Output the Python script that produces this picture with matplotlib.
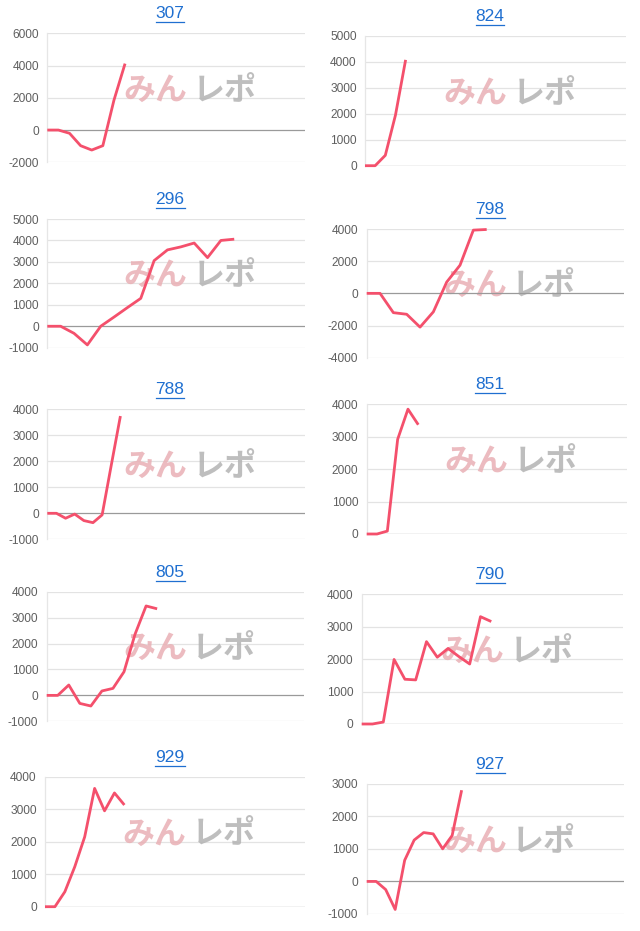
import matplotlib.pyplot as plt
from matplotlib.lines import Line2D

# chart titles (machine numbers), in reading order
titles = ['307', '824', '296', '798', '788', '851', '805', '790', '929', '927']

# cumulative difference per game
diff_307 = [0, 0, -200, -970, -1240, -970, 1850, 4120]
diff_824 = [0, 0, 400, 1950, 4080]
diff_296 = [0, 0, -330, -870, 0, 430, 870, 1300, 3060, 3560, 3700, 3880, 3200, 4000, 4060]
diff_798 = [0, 0, -1200, -1300, -2100, -1150, 700, 1750, 3930, 3970]
diff_788 = [0, 0, -190, -30, -280, -360, -60, 1850, 3740]
diff_851 = [0, 0, 90, 2920, 3850, 3370]
diff_805 = [0, 0, 400, -310, -410, 170, 270, 910, 2360, 3450, 3340]
diff_790 = [0, 0, 60, 1990, 1380, 1360, 2540, 2060, 2330, 2080, 1850, 3310, 3160]
diff_929 = [0, 0, 460, 1230, 2150, 3640, 2950, 3500, 3130]
diff_927 = [0, 0, -250, -860, 650, 1270, 1500, 1460, 1000, 1410, 2800]

series = [diff_307, diff_824, diff_296, diff_798, diff_788,
          diff_851, diff_805, diff_790, diff_929, diff_927]

# y axis ticks per chart
yticks = [
    [-2000, 0, 2000, 4000, 6000],
    [0, 1000, 2000, 3000, 4000, 5000],
    [-1000, 0, 1000, 2000, 3000, 4000, 5000],
    [-4000, -2000, 0, 2000, 4000],
    [-1000, 0, 1000, 2000, 3000, 4000],
    [0, 1000, 2000, 3000, 4000],
    [-1000, 0, 1000, 2000, 3000, 4000],
    [0, 1000, 2000, 3000, 4000],
    [0, 1000, 2000, 3000, 4000],
    [-1000, 0, 1000, 2000, 3000],
]

# number of x slots shown in each chart
slots = [23.2, 25.7, 19.3, 19.3, 28.2, 25.2, 23.3, 24.2, 26.2, 27.1]

# plot boxes in pixels: left, top, right, bottom
boxes = [
    (47.3, 33.3, 305, 162.3),
    (365, 36, 626, 165.7),
    (47.3, 219, 305, 347.7),
    (366.7, 229, 624, 357.7),
    (47.3, 409.3, 305, 539.3),
    (366.7, 404.3, 626.7, 534),
    (46.7, 591.7, 304, 721.3),
    (361.7, 594.3, 623, 724),
    (45, 776.7, 305, 906.7),
    (366.7, 783.7, 624, 914),
]

W, H = 640, 931
LINE = '#f4506c'
BLUE = '#1f6fd0'

fig = plt.figure(figsize=(W / 100, H / 100), dpi=100)
fig.patch.set_facecolor('white')

title_texts = []
for i, (vals, box) in enumerate(zip(series, boxes)):
    x0, y0, x1, y1 = box
    ax = fig.add_axes([x0 / W, 1 - y1 / H, (x1 - x0) / W, (y1 - y0) / H])
    ticks = yticks[i]
    ax.set_ylim(ticks[0], ticks[-1])
    ax.set_xlim(0, slots[i])
    ax.set_yticks(ticks)
    ax.set_yticklabels([str(t) for t in ticks], fontfamily='Liberation Sans',
                       fontsize=8.6, color='#5f5f5f')
    ax.set_xticks([])
    ax.tick_params(axis='y', length=0, pad=6)
    for t in ticks:
        if t == 0:
            ax.axhline(t, color='#9a9a9a', lw=0.9, zorder=2)
        else:
            ax.axhline(t, color='#e3e3e3', lw=0.9, zorder=0)
    for s in ['top', 'right', 'bottom']:
        ax.spines[s].set_visible(False)
    ax.spines['left'].set_color('#e6e6e6')
    ax.spines['left'].set_linewidth(0.9)

    # watermark
    ax.text(0.545, 0.555, 'みん', transform=ax.transAxes, ha='right', va='center',
            fontsize=23, fontweight='bold', color='#e9b0b5', alpha=0.85,
            fontfamily='Noto Sans CJK JP', zorder=1)
    ax.text(0.565, 0.555, 'レポ', transform=ax.transAxes, ha='left', va='center',
            fontsize=23, fontweight='bold', color='#b3b3b3', alpha=0.85,
            fontfamily='Noto Sans CJK JP', zorder=1)

    ax.plot(range(len(vals)), vals, color=LINE, lw=2.0, zorder=3,
            solid_joinstyle='round', solid_capstyle='butt', clip_on=False)

    cx = 170 if i % 2 == 0 else 490
    cy = y0 - 19.5
    t = fig.text(cx / W, 1 - cy / H, titles[i], ha='center', va='center',
                 fontsize=12.5, color=BLUE, fontfamily='Liberation Sans')
    title_texts.append((t, cy))

# underline the titles
fig.canvas.draw()
renderer = fig.canvas.get_renderer()
for t, cy in title_texts:
    bb = t.get_window_extent(renderer)
    uy = 1 - (cy + 8.5) / H
    fig.add_artist(Line2D([bb.x0 / W, bb.x1 / W], [uy, uy], color=BLUE, lw=0.9))

fig.savefig('out.png', dpi=100)
